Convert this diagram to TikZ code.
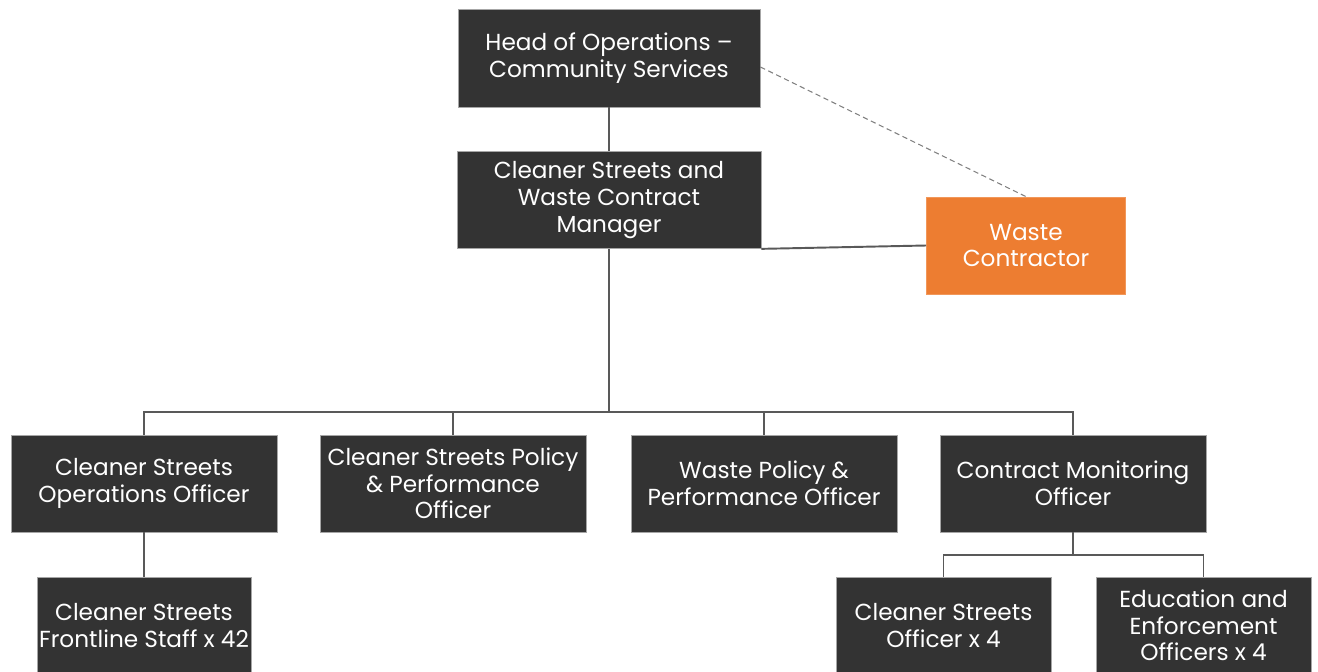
\documentclass[tikz,border=0pt]{standalone}
\usepackage{fontspec}
\setmainfont{Poppins}
\definecolor{boxgrey}{HTML}{333333}
\definecolor{linegrey}{HTML}{595959}
\definecolor{contractor}{HTML}{ED7D31}
\tikzset{
  post/.style={rectangle, fill=boxgrey, draw=gray!70, line width=0.4pt,
    text=white, align=center, inner sep=0pt,
    font=\fontsize{13.2}{15.2}\selectfont},
  link/.style={draw=linegrey, line width=1.1pt},
}
\begin{document}
\begin{tikzpicture}
      [x=0.02cm,y=-0.02cm]
      \useasboundingbox (0,0) rectangle (1318,672);
      % top of the chart
      \node[post, minimum width=302*0.02cm, minimum height=98*0.02cm] (head) at (609,58)
        {Head of Operations --\\Community Services};
      \node[post, minimum width=304*0.02cm, minimum height=97*0.02cm] (mgr) at (609,200)
        {Cleaner Streets and\\Waste Contract\\Manager};
      \node[post, fill=contractor, draw=contractor!80!white, minimum width=199*0.02cm, minimum height=97*0.02cm] (wc) at (1026,245.5)
        {Waste\\Contractor};

      % officers
      \foreach \n/\x/\t in {ops/144/{Cleaner Streets\\Operations Officer},
                            pol/453/{Cleaner Streets Policy\\\& Performance\\Officer},
                            wpo/764/{Waste Policy \&\\Performance Officer},
                            cmo/1073/{Contract Monitoring\\Officer}} {
        \node[post, minimum width=266*0.02cm, minimum height=97*0.02cm] (\n) at (\x,483.5) {\t};
      }

      % staff
      \node[post, minimum width=214*0.02cm, minimum height=97*0.02cm] (fls) at (144,625.5)
        {Cleaner Streets\\Frontline Staff x 42};
      \node[post, minimum width=215*0.02cm, minimum height=97*0.02cm] (cso) at (943.5,625.5)
        {Cleaner Streets\\Officer x 4};
      \node[post, minimum width=215*0.02cm, minimum height=97*0.02cm] (eeo) at (1203.5,625.5)
        {Education and\\Enforcement\\Officers x 4};

      \coordinate (bus) at (609,412);
      \coordinate (cbus) at (1073,555);

      \draw[link] (head) -- (mgr);
      \draw[link, line width=0.6pt, dash pattern=on 3pt off 2pt, draw=gray]
        ([yshift=-0.18cm]head.east) -- (wc.north);
      \draw[link] (mgr.south east) -- (wc.west);
      \draw[link] (mgr) -- (bus);
      \foreach \n in {ops,pol,wpo,cmo} {
        \draw[link] (bus) -| (\n.north);
      }
      \draw[link] (ops) -- (fls);
      \draw[link] (cmo) -- (cbus);
      \draw[link] (cbus) -| (cso.north);
      \draw[link] (cbus) -| (eeo.north);
    \end{tikzpicture}
\end{document}
